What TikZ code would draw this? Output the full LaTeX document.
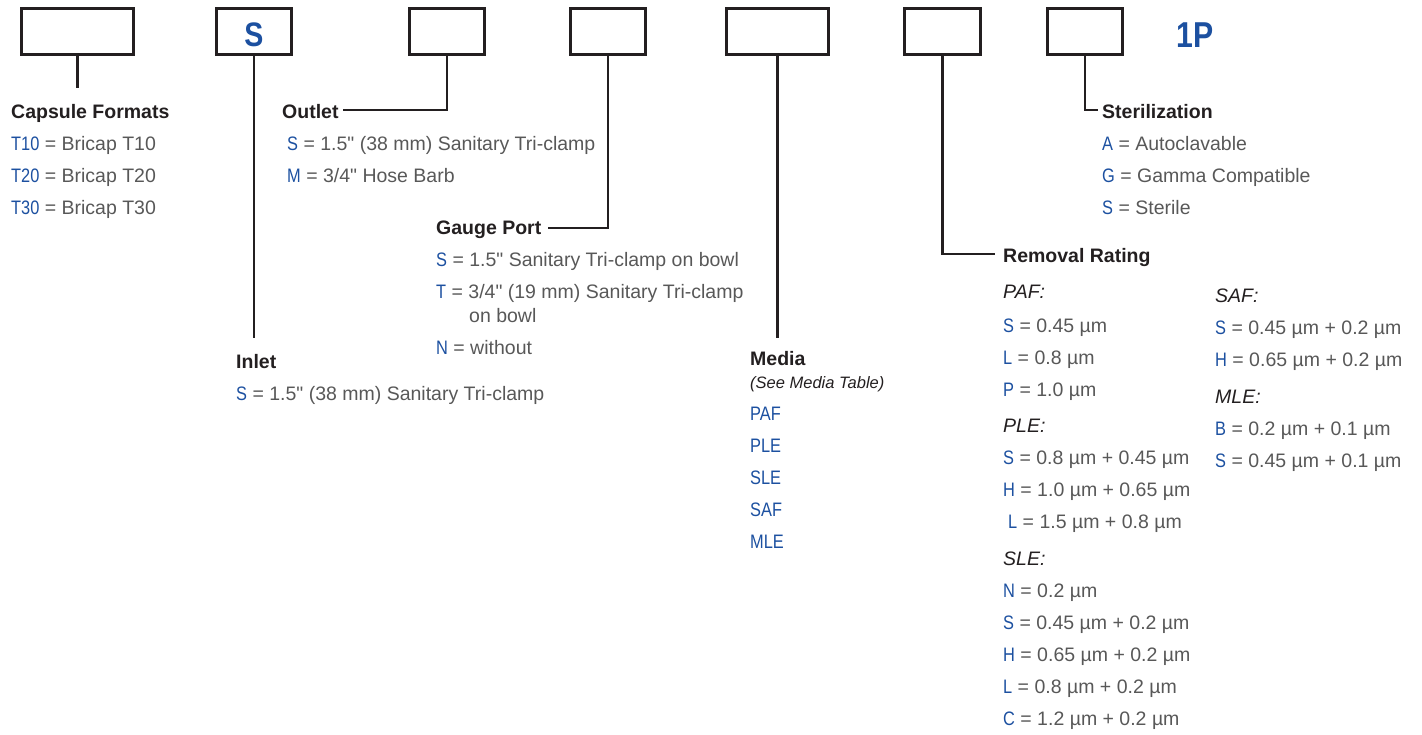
\documentclass[tikz,border=0pt]{standalone}
\usepackage{fontspec}
\setmainfont{Liberation Sans}
\newfontfamily\condf[FakeStretch=0.84]{Liberation Sans}
\definecolor{bluec}{RGB}{28,80,160}
\definecolor{grayc}{RGB}{88,88,88}
\definecolor{titlec}{RGB}{35,31,32}
\newcommand{\bl}[1]{{\condf\color{bluec}#1}}
\newcommand{\inch}{\XeTeXglyph\XeTeXcharglyph34\relax}
\tikzset{
  box/.style={draw=titlec, line width=2.6pt, minimum height=46.5pt, inner sep=0pt},
  conn/.style={draw=titlec, line width=2.6pt},
  ttl/.style={anchor=base west, inner sep=0pt, font=\fontsize{19.5}{22}\selectfont\bfseries, text=titlec},
  itm/.style={anchor=base west, inner sep=0pt, font=\fontsize{19.5}{22}\selectfont, text=grayc},
  sub/.style={anchor=base west, inner sep=0pt, font=\fontsize{19.5}{22}\selectfont\itshape, text=titlec},
  note/.style={anchor=base west, inner sep=0pt, font=\fontsize{16.5}{20}\selectfont\itshape, text=titlec},
  big/.style={inner sep=0pt, font=\fontsize{34}{36}\selectfont\bfseries\condf, text=bluec},
}
\begin{document}
\begin{tikzpicture}[x=1pt,y=-1pt]
\useasboundingbox (0,0) rectangle (1422,734);
% boxes
\node[box, minimum width=112.5pt] (b1) at (77.5,31.5) {};
\node[box, minimum width=75.5pt] (b2) at (254,31.5) {};
\node[box, minimum width=75.5pt] (b3) at (447,31.5) {};
\node[box, minimum width=75.5pt] (b4) at (608,31.5) {};
\node[box, minimum width=102.5pt] (b5) at (777.5,31.5) {};
\node[box, minimum width=76.5pt] (b6) at (942.5,31.5) {};
\node[box, minimum width=75.5pt] (b7) at (1085,31.5) {};
\node[big] (s2) at (254,35) {S};
\node[big, font=\fontsize{36}{38}\selectfont\bfseries\condf] (p1) at (1195,35) {1P};
% connectors
\coordinate (e1) at (77.5,88);
\coordinate (e2) at (254,338);
\coordinate (e3) at (343,110);
\coordinate (e4) at (548,228);
\coordinate (e5) at (777.5,338);
\coordinate (e6) at (995,254);
\coordinate (e7) at (1098,110);
\draw[conn] (b1.south) -- (e1);
\draw[conn] (b2.south) -- (e2);
\draw[conn] (b3.south) |- (e3);
\draw[conn] (b4.south) |- (e4);
\draw[conn] (b5.south) -- (e5);
\draw[conn] (b6.south) |- (e6);
\draw[conn] (b7.south) |- (e7);
% Capsule formats
\node[ttl] (cf) at (11,118) {Capsule Formats};
\node[itm] (cf1) at (11,150) {\bl{T10} = Bricap T10};
\node[itm] (cf2) at (11,182) {\bl{T20} = Bricap T20};
\node[itm] (cf3) at (11,214) {\bl{T30} = Bricap T30};
% Outlet
\node[ttl] (ou) at (282,118) {Outlet};
\node[itm] (ou1) at (287,150) {\bl{S} = 1.5\inch{} (38 mm) Sanitary Tri-clamp};
\node[itm] (ou2) at (287,182) {\bl{M} = 3/4\inch{} Hose Barb};
% Gauge port
\node[ttl] (gp) at (436,234) {Gauge Port};
\node[itm] (gp1) at (436,266) {\bl{S} = 1.5\inch{} Sanitary Tri-clamp on bowl};
\node[itm] (gp2) at (436,298) {\bl{T} = 3/4\inch{} (19 mm) Sanitary Tri-clamp};
\node[itm] (gp2b) at (469,322) {on bowl};
\node[itm] (gp3) at (436,354) {\bl{N} = without};
% Inlet
\node[ttl] (in) at (236,368) {Inlet};
\node[itm] (in1) at (236,400) {\bl{S} = 1.5\inch{} (38 mm) Sanitary Tri-clamp};
% Media
\node[ttl] (me) at (750,365) {Media};
\node[note] (men) at (750,388) {(See Media Table)};
\node[itm] (me1) at (750,420) {\bl{PAF}};
\node[itm] (me2) at (750,452) {\bl{PLE}};
\node[itm] (me3) at (750,484) {\bl{SLE}};
\node[itm] (me4) at (750,516) {\bl{SAF}};
\node[itm] (me5) at (750,548) {\bl{MLE}};
% Sterilization
\node[ttl] (st) at (1102,118) {Sterilization};
\node[itm] (st1) at (1102,150) {\bl{A} = Autoclavable};
\node[itm] (st2) at (1102,182) {\bl{G} = Gamma Compatible};
\node[itm] (st3) at (1102,214) {\bl{S} = Sterile};
% Removal rating
\node[ttl] (rr) at (1003,262) {Removal Rating};
\node[sub] (paf) at (1003,298) {PAF:};
\node[itm] (paf1) at (1003,332) {\bl{S} = 0.45 µm};
\node[itm] (paf2) at (1003,364) {\bl{L} = 0.8 µm};
\node[itm] (paf3) at (1003,396) {\bl{P} = 1.0 µm};
\node[sub] (ple) at (1003,432) {PLE:};
\node[itm] (ple1) at (1003,464) {\bl{S} = 0.8 µm + 0.45 µm};
\node[itm] (ple2) at (1003,496) {\bl{H} = 1.0 µm + 0.65 µm};
\node[itm] (ple3) at (1008,528) {\bl{L} = 1.5 µm + 0.8 µm};
\node[sub] (sle) at (1003,565) {SLE:};
\node[itm] (sle1) at (1003,597) {\bl{N} = 0.2 µm};
\node[itm] (sle2) at (1003,629) {\bl{S} = 0.45 µm + 0.2 µm};
\node[itm] (sle3) at (1003,661) {\bl{H} = 0.65 µm + 0.2 µm};
\node[itm] (sle4) at (1003,693) {\bl{L} = 0.8 µm + 0.2 µm};
\node[itm] (sle5) at (1003,725) {\bl{C} = 1.2 µm + 0.2 µm};
\node[sub] (saf) at (1215,302) {SAF:};
\node[itm] (saf1) at (1215,334) {\bl{S} = 0.45 µm + 0.2 µm};
\node[itm] (saf2) at (1215,366) {\bl{H} = 0.65 µm + 0.2 µm};
\node[sub] (mle) at (1215,403) {MLE:};
\node[itm] (mle1) at (1215,435) {\bl{B} = 0.2 µm + 0.1 µm};
\node[itm] (mle2) at (1215,467) {\bl{S} = 0.45 µm + 0.1 µm};
\end{tikzpicture}
\end{document}
